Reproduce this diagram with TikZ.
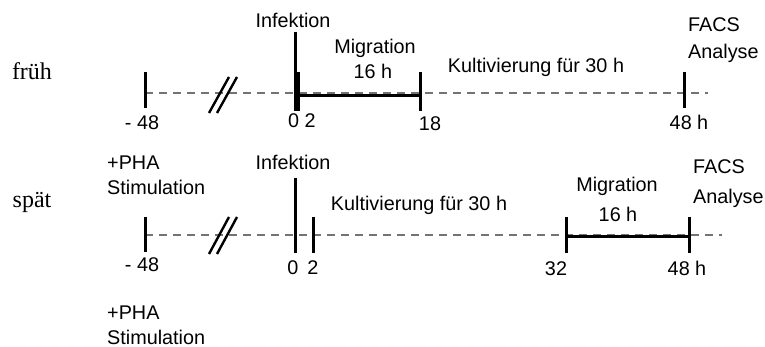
\documentclass[tikz,border=0pt]{standalone}
\usepackage{fontspec}
\setmainfont{Liberation Sans}
\newfontfamily\serifrm{Liberation Serif}
\begin{document}
\begin{tikzpicture}[x=1pt,y=-1pt,
  lbl/.style={inner sep=0pt, text height=14pt, text depth=0pt, font=\fontsize{19.8}{23}\selectfont},
  lbll/.style={lbl, anchor=west},
  rowlbl/.style={inner sep=0pt, text height=16pt, text depth=0pt, font=\serifrm\fontsize{24}{28}\selectfont},
  axis/.style={draw=gray!90!black, line width=2.8pt, dash pattern=on 8pt off 6pt},
  tick/.style={draw=black, line width=3pt},
  bar/.style={draw=black, line width=3pt},
  brk/.style={draw=black, line width=2.4pt}]
\useasboundingbox (0,0) rectangle (765,347);
% ---------- row "früh" ----------
\coordinate (a1s) at (145,93);
\coordinate (a1e) at (708,93);
\draw[axis] (a1s) -- (a1e);
\coordinate (a1m48t) at (145,72); \coordinate (a1m48b) at (145,108);
\draw[tick] (a1m48t) -- (a1m48b);
\coordinate (a1s1a) at (209,113); \coordinate (a1s1b) at (229,77);
\coordinate (a1s2a) at (217,113); \coordinate (a1s2b) at (237,77);
\draw[brk] (a1s1a) -- (a1s1b);
\draw[brk] (a1s2a) -- (a1s2b);
\coordinate (a1inft) at (295,32); \coordinate (a1infb) at (295,111);
\draw[tick] (a1inft) -- (a1infb);
\coordinate (a1twot) at (298,72); \coordinate (a1twob) at (298,111);
\draw[tick] (a1twot) -- (a1twob);
\coordinate (a1barl) at (298,96); \coordinate (a1barr) at (420,96);
\draw[bar] (a1barl) -- (a1barr);
\coordinate (a1e18t) at (420,72); \coordinate (a1e18b) at (420,111);
\draw[tick] (a1e18t) -- (a1e18b);
\coordinate (a1e48t) at (684,72); \coordinate (a1e48b) at (684,108);
\draw[tick] (a1e48t) -- (a1e48b);
\node[rowlbl] (frueh) at (32,72) {früh};
\node[lbl] (inf1) at (293,21) {Infektion};
\node[lbl] (mig1) at (375,47) {Migration};
\node[lbl] (mig1h) at (373,72) {16 h};
\node[lbl] (kult1) at (536,66) {Kultivierung für 30 h};
\node[lbll] (facs1) at (688,25) {FACS};
\node[lbll] (ana1) at (688,52) {Analyse};
\node[lbl] (n1m48) at (142,123) {- 48};
\node[lbl] (n1z) at (302,121) {0 2};
\node[lbl] (n118) at (430,124) {18};
\node[lbl] (n148) at (689,123) {48 h};
\node[lbll] (pha1) at (107,163) {+PHA};
\node[lbll] (stim1) at (107,188) {Stimulation};
% ---------- row "spät" ----------
\coordinate (a2s) at (145,235);
\coordinate (a2e) at (722,235);
\draw[axis] (a2s) -- (a2e);
\coordinate (a2m48t) at (145,217); \coordinate (a2m48b) at (145,252);
\draw[tick] (a2m48t) -- (a2m48b);
\coordinate (a2s1a) at (209,254); \coordinate (a2s1b) at (229,217);
\coordinate (a2s2a) at (217,254); \coordinate (a2s2b) at (237,217);
\draw[brk] (a2s1a) -- (a2s1b);
\draw[brk] (a2s2a) -- (a2s2b);
\coordinate (a2inft) at (295,178); \coordinate (a2infb) at (295,253);
\draw[tick] (a2inft) -- (a2infb);
\coordinate (a2twot) at (313,217); \coordinate (a2twob) at (313,253);
\draw[tick] (a2twot) -- (a2twob);
\coordinate (a2e32t) at (566,217); \coordinate (a2e32b) at (566,253);
\draw[tick] (a2e32t) -- (a2e32b);
\coordinate (a2e48t) at (689,217); \coordinate (a2e48b) at (689,253);
\draw[tick] (a2e48t) -- (a2e48b);
\coordinate (a2barl) at (566,237); \coordinate (a2barr) at (689,237);
\draw[bar] (a2barl) -- (a2barr);
\node[rowlbl] (spaet) at (32,200) {spät};
\node[lbl] (inf2) at (293,163) {Infektion};
\node[lbl] (kult2) at (419,204) {Kultivierung für 30 h};
\node[lbl] (mig2) at (617,185) {Migration};
\node[lbl] (mig2h) at (618,215) {16 h};
\node[lbll] (facs2) at (693,167) {FACS};
\node[lbll] (ana2) at (693,197) {Analyse};
\node[lbl] (n2m48) at (142,265) {- 48};
\node[lbl] (n2z) at (293,267) {0};
\node[lbl] (n2two) at (313,267) {2};
\node[lbl] (n232) at (556,269) {32};
\node[lbl] (n248) at (687,268) {48 h};
\node[lbll] (pha2) at (107,312) {+PHA};
\node[lbll] (stim2) at (107,337) {Stimulation};
\end{tikzpicture}
\end{document}
